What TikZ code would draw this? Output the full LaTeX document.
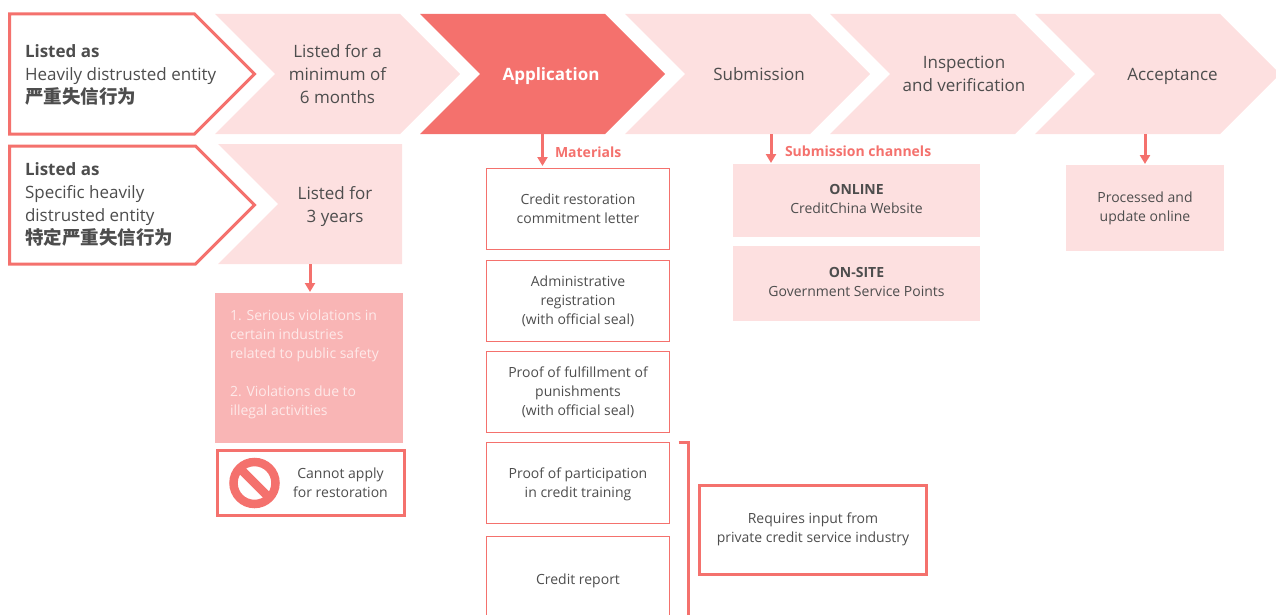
\documentclass[tikz,border=0pt]{standalone}
\usepackage{fontspec}
\setmainfont{Open Sans}
\newfontfamily\cjk{Noto Sans CJK SC}
\usetikzlibrary{shapes.symbols,positioning,arrows.meta}

\definecolor{coral}{HTML}{F4716D}
\definecolor{blush}{HTML}{FDE0E0}
\definecolor{rosy}{HTML}{F9B5B5}
\definecolor{inktext}{HTML}{4D4D4D}
\newcommand{\cjkline}[1]{{\fontsize{18.5}{23}\selectfont\cjk\bfseries #1}}
\newcommand{\stepstrut}{\rule[-5pt]{0pt}{23pt}}

\begin{document}
\begin{tikzpicture}[
x=1pt, y=-1pt,
every node/.style={text=inktext, align=center, inner sep=0pt, outer sep=0pt},
stepbase/.style={signal, signal pointer angle=90, minimum height=120pt, minimum width=245pt, font=\fontsize{17}{23}\selectfont},
chevron/.style={stepbase, signal from=west, signal to=east, fill=blush},
outlined/.style={stepbase, signal from=nowhere, signal to=east, draw=coral, line width=3pt, fill=white},
listtext/.style={anchor=west, align=left, font=\fontsize{17}{23}\selectfont},
steptext/.style={font=\fontsize{17}{23}\selectfont},
matbox/.style={draw=coral, line width=1pt, minimum width=183pt, minimum height=81pt, text depth=0pt, font=\fontsize{14}{19}\selectfont},
panel/.style={fill=blush, text depth=3pt, font=\fontsize{14}{19}\selectfont},
thickbox/.style={draw=coral, line width=3pt, font=\fontsize{14}{19}\selectfont},
redarrow/.style={draw=coral, line width=3pt, -{Triangle[width=10pt,length=9pt]}},
redlabel/.style={text=coral, font=\fontsize{14}{19}\selectfont\bfseries, anchor=west},
]
\clip (0,0) rectangle (1276,615);

% top row
\node[outlined, anchor=west] (heavy) at (9.5,74) {};
\node[listtext] (heavytext) at (25,75) {\textbf{Listed as}\\Heavily distrusted entity\\\cjkline{严重失信行为}};
\node[chevron] (months) at (337.5,74) {Listed for a\\minimum of\\6 months};
\node[chevron, fill=coral, text=white, font=\fontsize{17}{23}\selectfont\bfseries] (apply) at (542.5,74) {\hspace*{17pt}\stepstrut Application};
\node[chevron] (submit) at (747.5,74) {\hspace*{23pt}\stepstrut Submission};
\node[chevron] (inspect) at (952.5,74) {};
\node[steptext] (inspecttext) at (964,74) {Inspection\\and verification};
\node[chevron] (accept) at (1157.5,74) {\hspace*{30pt}\stepstrut Acceptance};

% second row
\node[outlined, anchor=west, minimum height=118pt] (specific) at (9.5,205) {};
\node[listtext] (specifictext) at (25,204) {\textbf{Listed as}\\Specific heavily\\distrusted entity\\\cjkline{特定严重失信行为}};
\node[stepbase, anchor=east, signal from=west, signal to=nowhere, fill=blush, minimum width=184pt] (years) at (402,204) {};
\node[steptext] (yearstext) at (335,207) {Listed for\\3 years};

% reasons
\node[fill=rosy, minimum width=188pt, minimum height=150pt] (reasons) at (309,368) {};
\node[text=blush!70!white, anchor=west, align=left, font=\fontsize{14}{19}\selectfont] (reasonstext) at (230,364) {1. Serious violations in\\certain industries\\related to public safety\\[19pt]2. Violations due to\\illegal activities};
\node[draw=coral, line width=3pt, minimum width=187pt, minimum height=65pt] (cannot) at (310.5,483) {};
\node[circle, draw=coral, line width=8.5pt, minimum size=42pt] (noentry) at (254.5,483) {};
\draw[coral, line width=8.5pt] (noentry.north west) -- (noentry.south east);
\node[font=\fontsize{14}{19}\selectfont] (cannottext) at (340.5,482.5) {Cannot apply\\for restoration};
\draw[redarrow, shorten >=1pt] ([xshift=1pt]reasons.north |- years.south) -- ([xshift=1pt]reasons.north);

% materials
\node[matbox] (letter) at (578,208.5) {Credit restoration\\commitment letter};
\node[matbox, below=11pt of letter] (admin) {Administrative\\registration\\(with official seal)};
\node[matbox, below=10pt of admin] (proof) {Proof of fulfillment of\\punishments\\(with official seal)};
\node[matbox, below=10pt of proof] (training) {Proof of participation\\in credit training};
\node[matbox, minimum height=86pt, below=13pt of training] (report) {Credit report};
\draw[redarrow, shorten >=2pt] (apply.south) -- (apply.south |- letter.north);
\node[redlabel] (materials) at (555,152) {Materials};

% bracket
\coordinate[right=9pt of training.north east] (bracketa);
\coordinate (bracketb) at (688,442);
\draw[coral, line width=3pt] (bracketa) -- (bracketb) -- (bracketb |- report.south);
\node[thickbox, minimum width=227pt, minimum height=89pt, text depth=5pt] (industry) at (813,530) {Requires input from\\private credit service industry};

% channels
\node[panel, minimum width=247pt, minimum height=73pt] (online) at (856.5,200.5) {\textbf{ONLINE}\\CreditChina Website};
\node[panel, minimum width=247pt, minimum height=75pt] (onsite) at (856.5,283.5) {\textbf{ON-SITE}\\Government Service Points};
\draw[redarrow, shorten >=1pt] ([xshift=23.5pt]submit.south) -- ([xshift=23.5pt]submit.south |- online.north);
\node[redlabel] (channels) at (785,151) {Submission channels};

% outcome
\node[panel, minimum width=158pt, minimum height=86pt] (processed) at (1145,208) {Processed and\\update online};
\draw[redarrow, shorten >=1pt] (processed.north |- accept.south) -- (processed.north);
\end{tikzpicture}
\end{document}
